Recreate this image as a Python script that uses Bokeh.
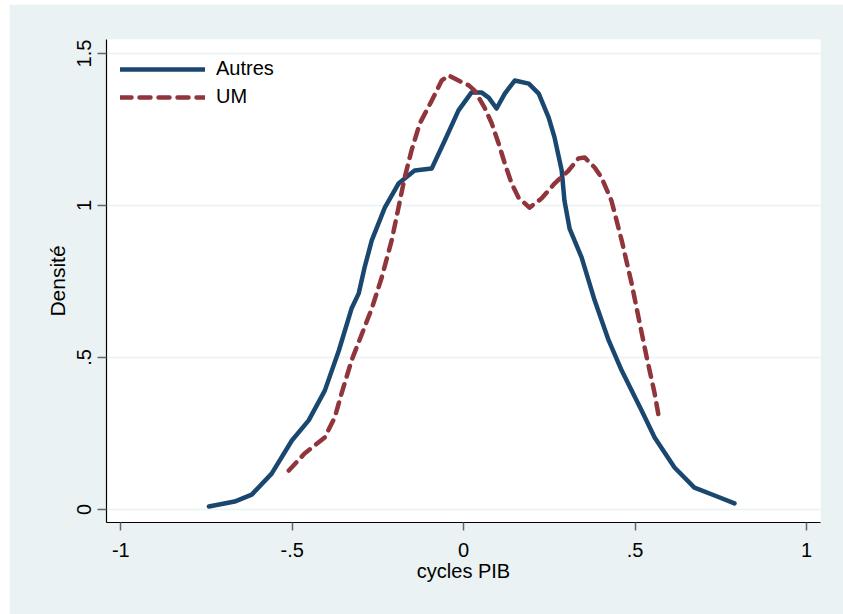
from bokeh.plotting import figure
from bokeh.models import FixedTicker, Range1d, Legend, LegendItem, Spacer
from bokeh.layouts import column, row
from bokeh.embed import file_html
from bokeh.resources import INLINE

# ---- data ----
autres_x = [-0.743, -0.668, -0.618, -0.560, -0.501, -0.452, -0.405, -0.364, -0.327, -0.306,
            -0.289, -0.268, -0.230, -0.190, -0.143, -0.093, -0.055, -0.015, 0.023, 0.052,
            0.073, 0.096, 0.120, 0.149, 0.190, 0.219, 0.248, 0.265, 0.286, 0.294,
            0.309, 0.344, 0.382, 0.423, 0.461, 0.519, 0.557, 0.615, 0.673, 0.732, 0.790]
autres_y = [0.010, 0.026, 0.049, 0.118, 0.227, 0.293, 0.391, 0.523, 0.661, 0.711,
            0.796, 0.885, 0.993, 1.072, 1.115, 1.122, 1.214, 1.313, 1.372, 1.372,
            1.355, 1.319, 1.368, 1.411, 1.401, 1.368, 1.289, 1.224, 1.115, 1.016,
            0.924, 0.829, 0.688, 0.556, 0.457, 0.326, 0.237, 0.138, 0.072, 0.046, 0.020]

um_x = [-0.510, -0.464, -0.405, -0.376, -0.356, -0.327, -0.268, -0.239, -0.210, -0.190,
        -0.172, -0.152, -0.128, -0.093, -0.064, -0.044, -0.015, 0.015, 0.032, 0.061,
        0.082, 0.102, 0.120, 0.140, 0.160, 0.192, 0.227, 0.265, 0.306, 0.335,
        0.353, 0.382, 0.402, 0.431, 0.461, 0.490, 0.510, 0.534, 0.557, 0.571]
um_y = [0.128, 0.184, 0.237, 0.303, 0.382, 0.490, 0.661, 0.763, 0.885, 0.993,
        1.092, 1.181, 1.270, 1.345, 1.411, 1.428, 1.411, 1.395, 1.378, 1.322,
        1.270, 1.204, 1.138, 1.072, 1.026, 0.993, 1.023, 1.072, 1.115, 1.155,
        1.158, 1.125, 1.092, 1.016, 0.885, 0.743, 0.632, 0.500, 0.382, 0.293]

x_ticks = [-1, -0.5, 0, 0.5, 1]
x_tick_labels = ["-1", "-.5", "0", ".5", "1"]
y_ticks = [0, 0.5, 1, 1.5]
y_tick_labels = ["0", ".5", "1", "1.5"]

series_names = ["Autres", "UM"]
x_title = "cycles PIB"
y_title = "Densité"

# ---- styles ----
BG = "#EAF2F3"
NAVY = "#1A476F"
MAROON = "#90353B"
FONT = "Liberation Sans"

p = figure(frame_width=714, frame_height=483,
           min_border_left=97, min_border_right=23, min_border_top=35, min_border_bottom=92,
           x_range=Range1d(-1.0417, 1.0408), y_range=Range1d(-0.0428, 1.546),
           output_backend="svg", toolbar_location=None,
           background_fill_color="white", border_fill_color=BG)
p.outline_line_color = None

p.xgrid.visible = False
p.ygrid.grid_line_color = BG
p.ygrid.grid_line_width = 1.5

p.xaxis.ticker = FixedTicker(ticks=x_ticks)
p.xaxis.major_label_overrides = dict(zip(x_ticks, x_tick_labels))
p.yaxis.ticker = FixedTicker(ticks=y_ticks)
p.yaxis.major_label_overrides = dict(zip(y_ticks, y_tick_labels))

for ax in (p.xaxis[0], p.yaxis[0]):
    ax.axis_line_color = "#000000"
    ax.axis_line_width = 1.2
    ax.major_tick_line_color = "#666666"
    ax.major_tick_line_width = 1.5
    ax.major_tick_in = 0
    ax.minor_tick_line_color = None
    ax.major_label_text_font = FONT
    ax.major_label_text_color = "#000000"
    ax.axis_label_text_font = FONT
    ax.axis_label_text_font_style = "normal"
    ax.axis_label_text_color = "#000000"

p.xaxis.major_tick_out = 8
p.yaxis.major_tick_out = 9
p.xaxis.major_label_text_font_size = "20px"
p.yaxis.major_label_text_font_size = "20px"
p.xaxis.axis_label_text_font_size = "20px"
p.yaxis.axis_label_text_font_size = "21px"
p.yaxis.major_label_orientation = "vertical"
p.xaxis.major_label_standoff = 12
p.yaxis.major_label_standoff = 6
p.xaxis.axis_label_standoff = 0
p.yaxis.axis_label_standoff = 6
p.xaxis.axis_label = x_title
p.yaxis.axis_label = y_title

r1 = p.line(autres_x, autres_y, line_color=NAVY, line_width=4.5, line_cap="round", line_join="round")
r2 = p.line(um_x, um_y, line_color=MAROON, line_width=4.5, line_cap="round", line_join="round",
            line_dash="11 8")

legend = Legend(items=[LegendItem(label=series_names[0], renderers=[r1]),
                       LegendItem(label=series_names[1], renderers=[r2])],
                location=(14, 414), margin=0, padding=0, spacing=5,
                glyph_width=85, glyph_height=22, label_height=22, label_standoff=11,
                label_text_font=FONT, label_text_font_size="20px", label_text_color="#000000",
                background_fill_alpha=0, border_line_color=None)
p.add_layout(legend)

layout = column(Spacer(height=4), row(Spacer(width=9), p))
open("out.html", "w").write(file_html(layout, INLINE))
